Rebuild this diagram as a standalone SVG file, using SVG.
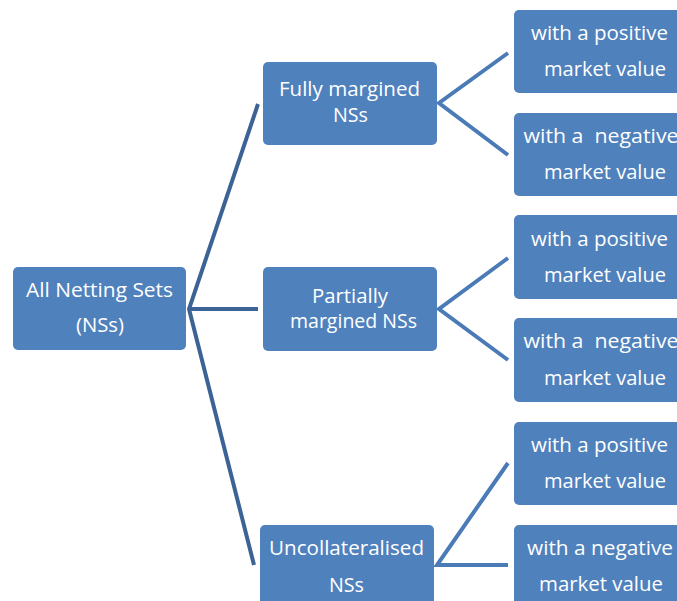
<svg xmlns="http://www.w3.org/2000/svg" width="677" height="601" viewBox="0 0 677 601">
<style>
.n{fill:#4F81BD}
.t{font-family:"Open Sans","Liberation Sans",sans-serif;font-size:20px;fill:#FFFFFF;text-anchor:middle}
.c1{stroke:#3C6396;stroke-width:4;fill:none;stroke-linejoin:miter}
.c2{stroke:#4A7BB7;stroke-width:4;fill:none}
</style>
<rect width="677" height="601" fill="#FFFFFF"/>
<g id="connectors">
<polyline class="c1" points="258,104 189,309 254,565"/>
<line class="c1" x1="189" y1="309" x2="258" y2="309"/>
<polyline class="c2" points="508,53 439,103 508,155"/>
<polyline class="c2" points="508,258 439,309 508,360"/>
<polyline class="c2" points="508,463 437,565 508,565"/>
</g>
<g id="all">
<rect class="n" x="13" y="267" width="173" height="83" rx="5"/>
<text class="t" x="99.5" y="297" textLength="147" lengthAdjust="spacingAndGlyphs">All Netting Sets</text>
<text class="t" x="100" y="332" textLength="48" lengthAdjust="spacingAndGlyphs">(NSs)</text>
</g>
<g id="fully">
<rect class="n" x="263" y="62" width="174" height="83" rx="5"/>
<text class="t" x="349.5" y="96" textLength="141" lengthAdjust="spacingAndGlyphs">Fully margined</text>
<text class="t" x="350.5" y="122" textLength="35" lengthAdjust="spacingAndGlyphs">NSs</text>
</g>
<g id="partially">
<rect class="n" x="263" y="267" width="174" height="84" rx="5"/>
<text class="t" x="350" y="303" textLength="76" lengthAdjust="spacingAndGlyphs">Partially</text>
<text class="t" x="353.5" y="328" textLength="127" lengthAdjust="spacingAndGlyphs">margined NSs</text>
</g>
<g id="uncollateralised">
<rect class="n" x="260" y="525" width="174" height="90" rx="5"/>
<text class="t" x="346.5" y="555" textLength="155" lengthAdjust="spacingAndGlyphs">Uncollateralised</text>
<text class="t" x="346.5" y="592" textLength="35" lengthAdjust="spacingAndGlyphs">NSs</text>
</g>
<g id="fully-positive">
<rect class="n" x="514" y="10" width="174" height="83" rx="5"/>
<text class="t" x="599.5" y="40" textLength="137" lengthAdjust="spacingAndGlyphs">with a positive</text>
<text class="t" x="605" y="76" textLength="122" lengthAdjust="spacingAndGlyphs">market value</text>
</g>
<g id="fully-negative">
<rect class="n" x="514" y="113" width="174" height="83" rx="5"/>
<text class="t" x="601" y="143" textLength="155" lengthAdjust="spacingAndGlyphs" xml:space="preserve">with a  negative</text>
<text class="t" x="605" y="179" textLength="122" lengthAdjust="spacingAndGlyphs">market value</text>
</g>
<g id="partially-positive">
<rect class="n" x="514" y="215" width="174" height="84" rx="5"/>
<text class="t" x="599.5" y="246" textLength="137" lengthAdjust="spacingAndGlyphs">with a positive</text>
<text class="t" x="605" y="282" textLength="122" lengthAdjust="spacingAndGlyphs">market value</text>
</g>
<g id="partially-negative">
<rect class="n" x="514" y="318" width="174" height="84" rx="5"/>
<text class="t" x="601" y="348" textLength="155" lengthAdjust="spacingAndGlyphs" xml:space="preserve">with a  negative</text>
<text class="t" x="605" y="385" textLength="122" lengthAdjust="spacingAndGlyphs">market value</text>
</g>
<g id="uncollateralised-positive">
<rect class="n" x="514" y="422" width="174" height="83" rx="5"/>
<text class="t" x="599.5" y="452" textLength="137" lengthAdjust="spacingAndGlyphs">with a positive</text>
<text class="t" x="605" y="488" textLength="122" lengthAdjust="spacingAndGlyphs">market value</text>
</g>
<g id="uncollateralised-negative">
<rect class="n" x="514" y="525" width="174" height="90" rx="5"/>
<text class="t" x="600" y="555" textLength="146" lengthAdjust="spacingAndGlyphs">with a negative</text>
<text class="t" x="601" y="591" textLength="124" lengthAdjust="spacingAndGlyphs">market value</text>
</g>
</svg>
